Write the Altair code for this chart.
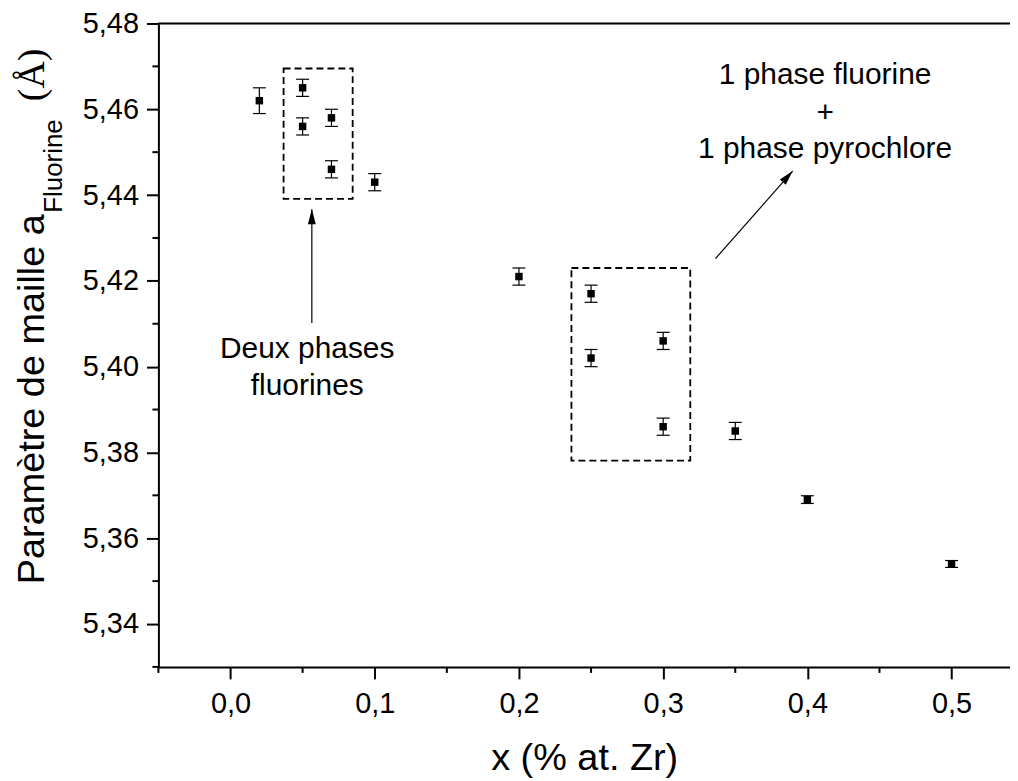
import math
import altair as alt
import pandas as pd

# ---- data ----
x_vals = [0.02, 0.05, 0.05, 0.07, 0.07, 0.10, 0.20, 0.25, 0.25, 0.30, 0.30, 0.35, 0.40, 0.50]
a_vals = [5.462, 5.465, 5.456, 5.458, 5.446, 5.443, 5.421, 5.417, 5.402, 5.406, 5.386, 5.385, 5.369, 5.354]
err_vals = [0.003, 0.002, 0.002, 0.002, 0.002, 0.002, 0.002, 0.002, 0.002, 0.002, 0.002, 0.002, 0.0009, 0.0008]

x_ticks = [0.0, 0.1, 0.2, 0.3, 0.4, 0.5]
x_minor = [-0.05, 0.05, 0.15, 0.25, 0.35, 0.45]
y_ticks = [5.34, 5.36, 5.38, 5.40, 5.42, 5.44, 5.46, 5.48]
y_minor = [5.33, 5.35, 5.37, 5.39, 5.41, 5.43, 5.45, 5.47]

# dashed boxes (data units)
box_x1 = [0.0368, 0.2364]
box_x2 = [0.0847, 0.3188]
box_y1 = [5.4391, 5.3781]
box_y2 = [5.4695, 5.4230]

# arrows (tail -> tip, data units)
arr_x1 = [0.0564, 0.3363]
arr_y1 = [5.4102, 5.4252]
arr_x2 = [0.0564, 0.3898]
arr_y2 = [5.4367, 5.4456]

# annotation texts
ann_text = ["Deux phases", "fluorines", "1 phase fluorine", "+", "1 phase pyrochlore"]
ann_x = [0.0532, 0.0532, 0.4123, 0.4123, 0.4123]
ann_y = [5.4042, 5.3955, 5.4680, 5.4591, 5.4507]

X_DOM = [-0.05, 0.5405]
Y_DOM = [5.33, 5.48]
W, H = 855, 646
FONT = "Liberation Sans"

px_x = W / (X_DOM[1] - X_DOM[0])
px_y = H / (Y_DOM[1] - Y_DOM[0])

pts = pd.DataFrame({"x": x_vals, "a": a_vals, "err": err_vals})
pts["lo"] = pts["a"] - pts["err"]
pts["hi"] = pts["a"] + pts["err"]

xs = alt.Scale(domain=X_DOM, nice=False, zero=False)
ys = alt.Scale(domain=Y_DOM, nice=False, zero=False)

x_axis = alt.Axis(
    values=x_ticks,
    labelExpr="replace(format(datum.value, '.1f'), '.', ',')",
    title="x (% at. Zr)",
    titleFontSize=38,
    titleFont=FONT,
    titleFontWeight="normal",
    titlePadding=21,
    labelPadding=11,
)
y_axis = alt.Axis(
    values=y_ticks,
    labelExpr="replace(format(datum.value, '.2f'), '.', ',')",
    title=None,
    labelPadding=8,
)


def X(field):
    return alt.X(field, type="quantitative", scale=xs, axis=x_axis)


def Y(field):
    return alt.Y(field, type="quantitative", scale=ys, axis=y_axis)


base = alt.Chart(pts)

points = base.mark_square(size=56, color="black", opacity=1).encode(x=X("x"), y=Y("a"))

stems = base.mark_rule(color="black", strokeWidth=1.2).encode(x=X("x"), y=Y("lo"), y2="hi:Q")
cap_lo = base.mark_tick(color="black", orient="horizontal", size=13, thickness=1.2, opacity=1).encode(
    x=X("x"), y=Y("lo")
)
cap_hi = base.mark_tick(color="black", orient="horizontal", size=13, thickness=1.2, opacity=1).encode(
    x=X("x"), y=Y("hi")
)

boxes = alt.Chart(pd.DataFrame({"x1": box_x1, "x2": box_x2, "y1": box_y1, "y2": box_y2})).mark_rect(
    fill=None, fillOpacity=0, stroke="black", strokeWidth=1.8, strokeDash=[7, 4]
).encode(x=X("x1"), x2="x2:Q", y=Y("y1"), y2="y2:Q")

arr = pd.DataFrame({"x1": arr_x1, "y1": arr_y1, "x2": arr_x2, "y2": arr_y2})
arr["angle"] = [
    math.degrees(math.atan2((b - a) * px_x, (d - c) * px_y)) % 360
    for a, b, c, d in zip(arr["x1"], arr["x2"], arr["y1"], arr["y2"])
]
arrow_lines = alt.Chart(arr).mark_rule(color="black", strokeWidth=1.2).encode(
    x=X("x1"), x2="x2:Q", y=Y("y1"), y2="y2:Q"
)
arrow_heads = alt.Chart(arr).mark_point(
    shape="M0,0L-0.53,2L0.53,2Z", size=225, filled=True, color="black", opacity=1, strokeWidth=0
).encode(x=X("x2"), y=Y("y2"), angle=alt.Angle("angle:Q", scale=None))

ann = alt.Chart(pd.DataFrame({"t": ann_text, "x": ann_x, "y": ann_y})).mark_text(
    font=FONT, fontSize=30, color="black", align="center", baseline="middle"
).encode(x=X("x"), y=Y("y"), text="t:N")

# minor ticks
xminor = alt.Chart(pd.DataFrame({"x": x_minor})).mark_rule(color="black", strokeWidth=2).encode(
    x=X("x"), y=alt.value(H), y2=alt.value(H + 6)
)
yminor = alt.Chart(pd.DataFrame({"y": y_minor})).mark_rule(color="black", strokeWidth=2).encode(
    y=Y("y"), x=alt.value(-6), x2=alt.value(0)
)
top_line = alt.Chart(pd.DataFrame({"y": [Y_DOM[1]]})).mark_rule(color="black", strokeWidth=2).encode(
    y=Y("y")
)

# y title with subscript
t_main = alt.Chart(pd.DataFrame({"t": ["Paramètre de maille a"]})).mark_text(
    font=FONT, fontSize=38, color="black", angle=270, align="left", baseline="alphabetic"
).encode(text="t:N", x=alt.value(-115), y=alt.value(563))
t_sub = alt.Chart(pd.DataFrame({"t": ["Fluorine"]})).mark_text(
    font=FONT, fontSize=26, color="black", angle=270, align="left", baseline="alphabetic"
).encode(text="t:N", x=alt.value(-97), y=alt.value(190))
t_unit = alt.Chart(pd.DataFrame({"t": ["(Å)"]})).mark_text(
    font="Liberation Serif", fontSize=38, color="black", angle=270, align="left", baseline="alphabetic"
).encode(text="t:N", x=alt.value(-115), y=alt.value(78))

chart = alt.layer(
    points, stems, cap_lo, cap_hi, boxes, arrow_lines, arrow_heads, ann,
    xminor, yminor, top_line, t_main, t_sub, t_unit,
).properties(
    width=W,
    height=H,
    padding={"left": 151, "top": 14, "right": 0, "bottom": 110},
    autosize=alt.AutoSizeParams(type="none"),
).configure_view(stroke=None).configure_axis(
    domainColor="black",
    domainWidth=2,
    tickColor="black",
    tickWidth=2,
    tickSize=12,
    labelFont=FONT,
    labelFontSize=29,
    labelColor="black",
    titleColor="black",
    grid=False,
)

chart.save("out.html", embed_options={"renderer": "svg", "actions": False})
